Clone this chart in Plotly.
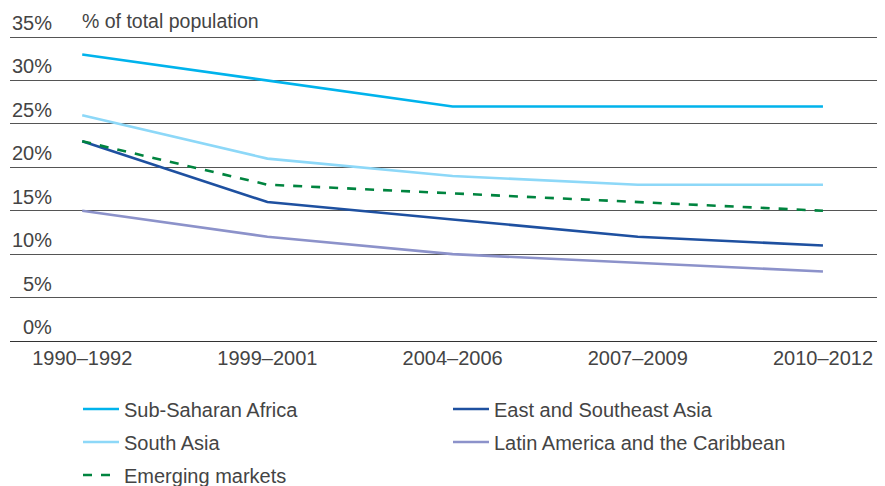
import plotly.graph_objects as go

periods = ["1990–1992", "1999–2001", "2004–2006", "2007–2009", "2010–2012"]
sub_saharan = [33, 30, 27, 27, 27]
east_se_asia = [23, 16, 14, 12, 11]
south_asia = [26, 21, 19, 18, 18]
latin_america = [15, 12, 10, 9, 8]
emerging = [23, 18, 17, 16, 15]
y_ticks_two_digit = [10, 15, 20, 25, 30, 35]
y_ticks_one_digit = [0, 5]
y_text_two_digit = [f"{v}%" for v in y_ticks_two_digit]
y_text_one_digit = [f"{v}%" for v in y_ticks_one_digit]

# page body adds an 8px offset; figure is sized/positioned to compensate
OFF = 8
W, H = 885 - OFF, 486 - OFF
ML, MR, MT, MB = 10 - OFF, 0, 11 - OFF, 145
PW, PH = W - ML - MR, H - MT - MB
FONT = "Liberation Sans"
TXT = "#444444"
FS = 20
GRID = "#555555"

fig = go.Figure()
series = [
    ("Sub-Saharan Africa", sub_saharan, "#00B3EC", "solid", "legend"),
    ("East and Southeast Asia", east_se_asia, "#1E50A0", "solid", "legend"),
    ("South Asia", south_asia, "#8DD8F8", "solid", "legend2"),
    ("Latin America and the Caribbean", latin_america, "#8C92CA", "solid", "legend2"),
    ("Emerging markets", emerging, "#00843F", "dash", "legend3"),
]
for name, vals, col, dash, lg in series:
    fig.add_trace(go.Scatter(x=periods, y=vals, name=name, mode="lines",
                             legend=lg,
                             line=dict(color=col, width=2.6, dash=dash)))
# empty trace so the overlaid axis (single-digit labels) is drawn
fig.add_trace(go.Scatter(x=[], y=[], yaxis="y2", showlegend=False,
                         hoverinfo="skip"))


def px_x(p):
    # p: screen pixel
    return (p - OFF - ML) / PW


def px_y(p):
    return (H - MB - (p - OFF)) / PH


def leg(row_y):
    return dict(orientation="h", x=px_x(78), xanchor="left",
                y=px_y(row_y), yanchor="middle", entrywidth=319,
                entrywidthmode="pixels", font=dict(size=FS, color=TXT),
                itemwidth=36, bgcolor="rgba(0,0,0,0)")


common_y = dict(range=[0, 38], ticklabelposition="inside top",
                showgrid=True, gridcolor=GRID, gridwidth=1,
                zeroline=True, zerolinecolor="#333333", zerolinewidth=1,
                tickfont=dict(size=FS, color=TXT), fixedrange=True)

fig.update_layout(
    width=W, height=H,
    margin=dict(l=ML, r=MR, t=MT, b=MB, autoexpand=False),
    plot_bgcolor="white", paper_bgcolor="white",
    font=dict(family=FONT, size=FS, color=TXT),
    xaxis=dict(type="category", range=[-0.39, 4.335], showgrid=False,
               ticks="", showline=False, ticklabelstandoff=3,
               tickfont=dict(size=FS, color=TXT)),
    yaxis=dict(tickvals=y_ticks_two_digit, ticktext=y_text_two_digit,
               ticklabelstandoff=-1, **common_y),
    yaxis2=dict(tickvals=y_ticks_one_digit, ticktext=y_text_one_digit,
                ticklabelstandoff=10, overlaying="y", side="left",
                anchor="x", **common_y),
    legend=leg(409),
    legend2=leg(442),
    legend3=leg(475),
    showlegend=True,
)
fig.add_annotation(text="% of total population", xref="paper", yref="y",
                   x=px_x(80), y=35, xanchor="left",
                   yanchor="bottom", showarrow=False,
                   font=dict(size=FS - 0.5, color=TXT), yshift=3)

fig.write_html("out.html")
